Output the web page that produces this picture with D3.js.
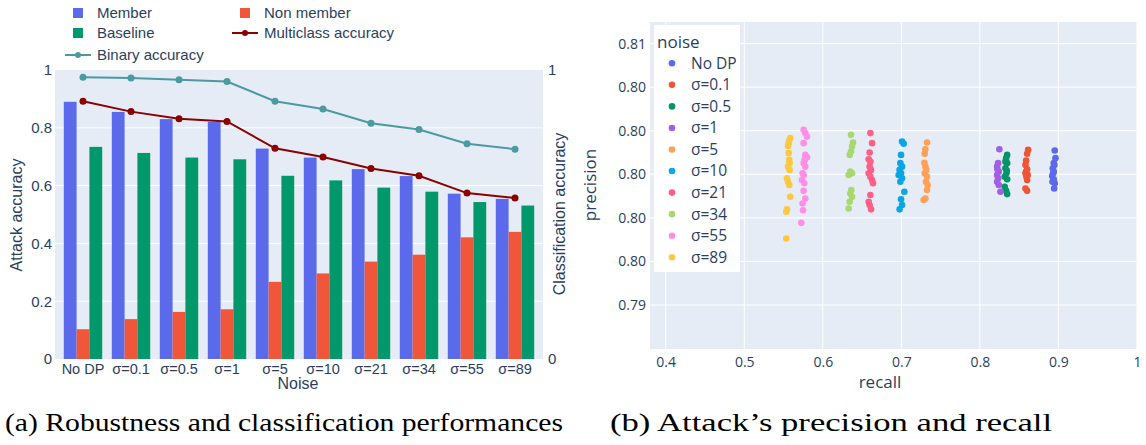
<!DOCTYPE html>
<html><head><meta charset="utf-8">
<script src="https://cdn.jsdelivr.net/npm/d3@7"></script>
<style>body{margin:0;background:#fff}svg{display:block}</style>
</head><body>
<script>
// ---------- data: left chart ----------
const categories = ["No DP","σ=0.1","σ=0.5","σ=1","σ=5","σ=10","σ=21","σ=34","σ=55","σ=89"];
const member     = [0.890,0.855,0.830,0.820,0.728,0.697,0.657,0.633,0.572,0.554];
const nonMember  = [0.103,0.138,0.163,0.172,0.267,0.296,0.337,0.361,0.421,0.440];
const baseline   = [0.734,0.713,0.697,0.691,0.634,0.618,0.593,0.579,0.543,0.531];
const binaryAcc  = [0.975,0.972,0.966,0.960,0.892,0.865,0.816,0.794,0.745,0.726];
const multiAcc   = [0.892,0.856,0.831,0.822,0.729,0.699,0.659,0.634,0.574,0.557];
const leftTicks  = [0,0.2,0.4,0.6,0.8,1];
const rightTicks = [0,1];

// ---------- data: right chart (recall, precision per run) ----------
const noiseNames = ["No DP","σ=0.1","σ=0.5","σ=1","σ=5","σ=10","σ=21","σ=34","σ=55","σ=89"];
const ptsNoDP = [[0.8953,0.80109],[0.8962,0.80074],[0.8940,0.80051],[0.8928,0.80028],[0.8940,0.80012],[0.8920,0.79992],[0.8940,0.79977],[0.8953,0.79959],[0.8945,0.79935],[0.8932,0.80005],[0.8949,0.80043],[0.8924,0.79966]];
const pts01 = [[0.8614,0.80112],[0.8601,0.80094],[0.8588,0.80063],[0.8580,0.80043],[0.8601,0.80023],[0.8580,0.80005],[0.8592,0.79989],[0.8601,0.79974],[0.8580,0.79935],[0.8601,0.79924],[0.8588,0.80012],[0.8609,0.79997]];
const pts05 = [[0.8347,0.80089],[0.8334,0.80074],[0.8347,0.80051],[0.8325,0.80028],[0.8338,0.80005],[0.8316,0.79989],[0.8347,0.79977],[0.8316,0.79943],[0.8334,0.79924],[0.8347,0.79909],[0.8325,0.80058],[0.8342,0.80017]];
const pts1 = [[0.8248,0.80115],[0.8232,0.80051],[0.8219,0.80035],[0.8240,0.80012],[0.8219,0.79997],[0.8232,0.79982],[0.8219,0.79966],[0.8240,0.79951],[0.8261,0.79920],[0.8223,0.80023]];
const pts5 = [[0.7327,0.80146],[0.7306,0.80115],[0.7297,0.80094],[0.7293,0.80053],[0.7306,0.80035],[0.7318,0.80020],[0.7297,0.80005],[0.7327,0.79989],[0.7314,0.79966],[0.7335,0.79951],[0.7327,0.79928],[0.7306,0.79889],[0.7284,0.79882]];
const pts10 = [[0.7009,0.80150],[0.7030,0.80140],[0.6996,0.80089],[0.6987,0.80051],[0.7009,0.80035],[0.6978,0.80020],[0.6996,0.80005],[0.6966,0.79997],[0.7009,0.79982],[0.6987,0.79966],[0.7038,0.79920],[0.6996,0.79885],[0.7009,0.79859],[0.6978,0.79839]];
const pts21 = [[0.6605,0.80189],[0.6627,0.80143],[0.6596,0.80100],[0.6584,0.80069],[0.6605,0.80058],[0.6596,0.80035],[0.6614,0.80020],[0.6584,0.80005],[0.6605,0.79989],[0.6627,0.79974],[0.6639,0.79959],[0.6605,0.79905],[0.6584,0.79874],[0.6596,0.79859],[0.6614,0.79839]];
const pts34 = [[0.6359,0.80181],[0.6385,0.80146],[0.6372,0.80127],[0.6359,0.80104],[0.6342,0.80089],[0.6350,0.80012],[0.6329,0.79997],[0.6372,0.80005],[0.6363,0.79928],[0.6350,0.79912],[0.6372,0.79897],[0.6342,0.79874],[0.6329,0.79843]];
const pts55 = [[0.5756,0.80204],[0.5777,0.80189],[0.5799,0.80173],[0.5756,0.80143],[0.5777,0.80089],[0.5799,0.80078],[0.5768,0.80066],[0.5756,0.80051],[0.5777,0.80035],[0.5743,0.80005],[0.5756,0.79997],[0.5735,0.79974],[0.5764,0.79959],[0.5756,0.79924],[0.5777,0.79889],[0.5743,0.79866],[0.5748,0.79835],[0.5726,0.79777]];
const pts89 = [[0.5586,0.80166],[0.5573,0.80155],[0.5565,0.80143],[0.5557,0.80130],[0.5565,0.80097],[0.5573,0.80066],[0.5577,0.80051],[0.5557,0.80035],[0.5577,0.80020],[0.5544,0.79982],[0.5557,0.79966],[0.5573,0.79951],[0.5586,0.79897],[0.5544,0.79839],[0.5535,0.79828],[0.5535,0.79705]];
const recallTicks = [0.4,0.5,0.6,0.7,0.8,0.9,1];
const precisionTicks = [0.794,0.796,0.798,0.800,0.802,0.804,0.806];

// ---------- styles ----------
const C = {member:"#5b6aea", non:"#f0563a", base:"#01996b", bin:"#4b9aa0", multi:"#8b0000",
  bg:"#e5ecf6", txt:"#2a3f5f"};
const noiseColors = ["#5b6aea","#ef5535","#03946a","#a35ee8","#ffa057","#0aa5e5","#ff5f85","#a8d870","#ff8ee8","#fdc840"];
const seriesPts = [ptsNoDP,pts01,pts05,pts1,pts5,pts10,pts21,pts34,pts55,pts89];

const W=1146,H=445;
const svg=d3.select("body").append("svg").attr("width",W).attr("height",H);
const FL="'Liberation Sans', Arial, sans-serif";
const FR="'Open Sans', sans-serif";

// ================= LEFT CHART =================
const L={x0:55,x1:543,y0:70,y1:359};
const left=svg.append("g");
left.append("rect").attr("x",L.x0).attr("y",L.y0).attr("width",L.x1-L.x0).attr("height",L.y1-L.y0).attr("fill",C.bg);
const xb=d3.scaleBand().domain(categories).range([59,539]).paddingInner(0);
const yl=d3.scaleLinear().domain([0,1]).range([L.y1,L.y0]);
const yr=d3.scaleLinear().domain([0,1]).range([L.y1,L.y0]);
left.selectAll(".gl").data([0.2,0.4,0.6,0.8]).join("line")
  .attr("x1",L.x0).attr("x2",L.x1).attr("y1",d=>yl(d)).attr("y2",d=>yl(d))
  .attr("stroke","#fff").attr("stroke-width",1);
const groupW=xb.bandwidth()*0.8, barW=groupW/3;
const barSeries=[[member,C.member],[nonMember,C.non],[baseline,C.base]];
barSeries.forEach(([vals,col],si)=>{
  left.append("g").selectAll("rect").data(categories).join("rect")
    .attr("x",(c)=>xb(c)+xb.bandwidth()*0.1+si*barW)
    .attr("width",barW)
    .attr("y",(c,i)=>yl(vals[i]))
    .attr("height",(c,i)=>yl(0)-yl(vals[i]))
    .attr("fill",col);
});
function drawLine(vals,col){
  const cx=c=>xb(c)+xb.bandwidth()/2;
  left.append("path").datum(categories)
    .attr("d",d3.line().x(cx).y((c,i)=>yr(vals[i])))
    .attr("fill","none").attr("stroke",col).attr("stroke-width",2);
  left.append("g").selectAll("circle").data(categories).join("circle")
    .attr("cx",cx).attr("cy",(c,i)=>yr(vals[i])).attr("r",3.5).attr("fill",col);
}
drawLine(binaryAcc,C.bin);
drawLine(multiAcc,C.multi);
// axes
const axL=left.append("g").attr("transform",`translate(${L.x0},0)`)
  .call(d3.axisLeft(yl).tickValues(leftTicks).tickSize(0).tickPadding(3).tickFormat(d=>d===0||d===1?String(d):d3.format(".1f")(d)));
const axR=left.append("g").attr("transform",`translate(${L.x1},0)`)
  .call(d3.axisRight(yr).tickValues(rightTicks).tickSize(0).tickPadding(5).tickFormat(d3.format("d")));
const axB=left.append("g").attr("transform",`translate(0,${L.y1})`)
  .call(d3.axisBottom(xb).tickSize(0).tickPadding(5));
[axL,axR,axB].forEach(a=>{a.select(".domain").remove();a.selectAll("text").attr("fill",C.txt).attr("font-family",FL).attr("font-size",15);});
axB.selectAll("text").attr("font-size",14.5);
left.append("text").attr("transform","translate(22,215) rotate(-90)").attr("text-anchor","middle")
  .attr("font-family",FL).attr("font-size",16).attr("fill",C.txt).text("Attack accuracy");
left.append("text").attr("transform","translate(565,214) rotate(-90)").attr("text-anchor","middle")
  .attr("font-family",FL).attr("font-size",16).attr("fill",C.txt).text("Classification accuracy");
left.append("text").attr("x",298).attr("y",389).attr("text-anchor","middle")
  .attr("font-family",FL).attr("font-size",16).attr("fill",C.txt).text("Noise");
// legend
const lg=left.append("g").attr("font-family",FL).attr("font-size",15).attr("fill",C.txt);
const legItems=[
  {t:"Member",x:65,y:13,type:"sq",c:C.member},
  {t:"Non member",x:232,y:13,type:"sq",c:C.non},
  {t:"Baseline",x:65,y:33,type:"sq",c:C.base},
  {t:"Multiclass accuracy",x:232,y:33,type:"ln",c:C.multi},
  {t:"Binary accuracy",x:65,y:55,type:"ln",c:C.bin}];
legItems.forEach(d=>{
  if(d.type==="sq"){
    lg.append("rect").attr("x",d.x+8).attr("y",d.y-5).attr("width",10).attr("height",10).attr("fill",d.c);
  } else {
    lg.append("line").attr("x1",d.x).attr("x2",d.x+26).attr("y1",d.y).attr("y2",d.y).attr("stroke",d.c).attr("stroke-width",2);
    lg.append("circle").attr("cx",d.x+13).attr("cy",d.y).attr("r",3).attr("fill",d.c);
  }
  lg.append("text").attr("x",d.x+32).attr("y",d.y).attr("dy","0.35em").text(d.t);
});

// ================= RIGHT CHART =================
const R={x0:650,x1:1137,y0:22,y1:349};
const right=svg.append("g");
right.append("rect").attr("x",R.x0).attr("y",R.y0).attr("width",R.x1-R.x0).attr("height",R.y1-R.y0).attr("fill",C.bg);
const xs=d3.scaleLinear().domain([0.38,1.0]).range([R.x0,R.x1]);
const ys=d3.scaleLinear().domain([0.79198,0.80699]).range([R.y1,R.y0]);
right.selectAll(".vg").data(recallTicks).join("line")
  .attr("x1",d=>xs(d)).attr("x2",d=>xs(d)).attr("y1",R.y0).attr("y2",R.y1).attr("stroke","#fff").attr("stroke-width",1);
right.selectAll(".hg").data(precisionTicks).join("line")
  .attr("x1",R.x0).attr("x2",R.x1).attr("y1",d=>ys(d)).attr("y2",d=>ys(d)).attr("stroke","#fff").attr("stroke-width",1);
seriesPts.forEach((pts,i)=>{
  right.append("g").selectAll("circle").data(pts).join("circle")
    .attr("cx",d=>xs(d[0])).attr("cy",d=>ys(d[1])).attr("r",3.3).attr("fill",noiseColors[i]);
});
const axX=right.append("g").attr("transform",`translate(0,${R.y1})`)
  .call(d3.axisBottom(xs).tickValues(recallTicks).tickSize(0).tickPadding(8).tickFormat(d=>d===1?"1":d3.format(".1f")(d)));
const axY=right.append("g").attr("transform",`translate(${R.x0},0)`)
  .call(d3.axisLeft(ys).tickValues(precisionTicks).tickSize(0).tickPadding(4).tickFormat(d3.format(".2f")));
[axX,axY].forEach(a=>{a.select(".domain").remove();a.selectAll("text").attr("fill",C.txt).attr("font-family",FR).attr("font-size",14);});
right.append("text").attr("x",880).attr("y",388).attr("text-anchor","middle")
  .attr("font-family",FR).attr("font-size",17).attr("fill",C.txt).text("recall");
right.append("text").attr("transform","translate(596,185) rotate(-90)").attr("text-anchor","middle")
  .attr("font-family",FR).attr("font-size",17).attr("fill",C.txt).text("precision");
// legend
const rl=right.append("g").attr("font-family",FR).attr("fill",C.txt);
rl.append("rect").attr("x",654).attr("y",25).attr("width",86).attr("height",247).attr("fill","#fff");
rl.append("text").attr("x",657).attr("y",42).attr("dy","0.35em").attr("font-size",17).text("noise");
noiseNames.forEach((n,i)=>{
  const y=63.3+i*21.55;
  rl.append("circle").attr("cx",672).attr("cy",y).attr("r",3.3).attr("fill",noiseColors[i]);
  rl.append("text").attr("x",691).attr("y",y).attr("dy","0.35em").attr("font-size",15.5).text(n);
});

// ================= CAPTIONS =================
const serif="'Liberation Serif','Times New Roman',serif";
svg.append("text").attr("x",5).attr("y",431).attr("font-family",serif)
  .attr("font-size",25).attr("fill","#000").attr("textLength",558).attr("lengthAdjust","spacingAndGlyphs")
  .text("(a) Robustness and classification performances");
svg.append("text").attr("x",610).attr("y",431).attr("font-family",serif)
  .attr("font-size",25).attr("fill","#000").attr("textLength",442).attr("lengthAdjust","spacingAndGlyphs")
  .text("(b) Attack’s precision and recall");
</script>
</body></html>
